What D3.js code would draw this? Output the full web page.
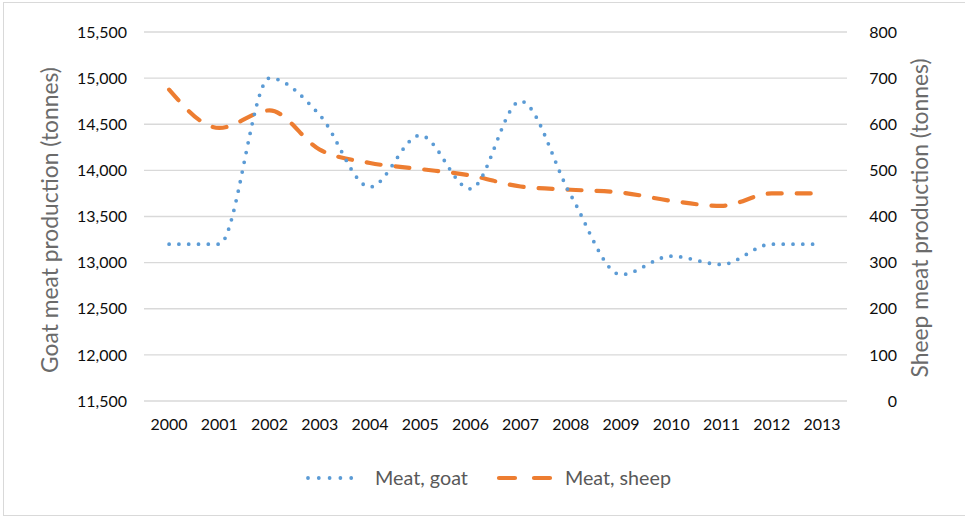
<!DOCTYPE html>
<html><head><meta charset="utf-8">
<script src="https://cdn.jsdelivr.net/npm/d3@7"></script>
<style>body{margin:0;background:#fff;} svg{display:block;font-family:Lato,"Open Sans",sans-serif;}</style>
</head><body>
<script>
const years = ["2000","2001","2002","2003","2004","2005","2006","2007","2008","2009","2010","2011","2012","2013"];
const goat = [13200,13200,15000,14600,13820,14380,13800,14750,13730,12870,13070,12980,13200,13200];
const sheep = [675,592,630,545,516,503,489,465,458,452,434,423,450,450];
const leftTicks = [11500,12000,12500,13000,13500,14000,14500,15000,15500];
const rightTicks = [0,100,200,300,400,500,600,700,800];

const W=965,H=517;
const svg=d3.select("body").append("svg").attr("width",W).attr("height",H);
svg.append("rect").attr("x",3.5).attr("y",2.5).attr("width",970).attr("height",513).attr("fill","#fff").attr("stroke","#d9d9d9");

// fit font size so text gets a target width
function fit(sel,target){
  sel.each(function(){
    const t=d3.select(this); const s0=+t.attr("font-size")||16;
    const w=this.getComputedTextLength(); if(w>0) t.attr("font-size",(s0*target/w).toFixed(2));
  });
}

const x=d3.scaleBand().domain(years).range([144,847]);
const yL=d3.scaleLinear().domain([11500,15500]).range([401,32]);
const yR=d3.scaleLinear().domain([0,800]).range([401,32]);

svg.append("g").selectAll("line").data(leftTicks).join("line")
 .attr("x1",144).attr("x2",847).attr("y1",d=>yL(d)).attr("y2",d=>yL(d))
 .attr("stroke","#d9d9d9").attr("stroke-width",1.3);

const fmt=d3.format(",");
const axL=svg.append("g").attr("transform","translate(127,0)")
 .call(d3.axisLeft(yL).tickValues(leftTicks).tickFormat(fmt).tickSize(0).tickPadding(0));
const axR=svg.append("g").attr("transform","translate(897,0)")
 .call(d3.axisLeft(yR).tickValues(rightTicks).tickSize(0).tickPadding(0));
const axB=svg.append("g").attr("transform","translate(0,419)")
 .call(d3.axisBottom(x).tickSize(0).tickPadding(0));
[axL,axR,axB].forEach(a=>{a.select(".domain").remove();
 a.selectAll("text").attr("font-size",16).attr("fill","#0d0d0d").attr("font-family","Lato");});
axB.selectAll("text").attr("dy","0.71em");
const ls=16*50/axL.select(".tick text").node().getComputedTextLength();
axL.selectAll("text").attr("font-size",ls); axR.selectAll("text").attr("font-size",ls);
const bs=16*37/axB.select(".tick text").node().getComputedTextLength();
axB.selectAll("text").attr("font-size",bs);

const tL=svg.append("text").attr("transform","translate(58,220) rotate(-90)").attr("text-anchor","middle")
 .attr("font-size",18).attr("fill","#6b6b6b").text("Goat meat production (tonnes)");
fit(tL,306);
const tR=svg.append("text").attr("transform","translate(928,218) rotate(-90)").attr("text-anchor","middle")
 .attr("font-size",18).attr("fill","#6b6b6b").text("Sheep meat production (tonnes)");
fit(tR,306*tR.node().getComputedTextLength()/tL.node().getComputedTextLength()*(+tL.attr("font-size"))/18);

const cx=d=>x(d)+x.bandwidth()/2;
const lineG=d3.line().x((d,i)=>cx(years[i])).y(d=>yL(d)).curve(d3.curveMonotoneX);
const lineS=d3.line().x((d,i)=>cx(years[i])).y(d=>yR(d)).curve(d3.curveMonotoneX);

svg.append("path").attr("d",lineS(sheep)).attr("fill","none").attr("stroke","#ed7d31")
 .attr("stroke-width",4.2).attr("stroke-dasharray","14 15").attr("stroke-linecap","round");
svg.append("path").attr("d",lineG(goat)).attr("fill","none").attr("stroke","#5b9bd5")
 .attr("stroke-width",3.8).attr("stroke-dasharray","0 9.8").attr("stroke-linecap","round");

const lg=svg.append("g");
lg.append("line").attr("x1",308).attr("x2",362).attr("y1",478).attr("y2",478).attr("stroke","#5b9bd5")
 .attr("stroke-width",3.8).attr("stroke-dasharray","0 10.8").attr("stroke-linecap","round");
const l1=lg.append("text").attr("x",375).attr("y",478).attr("dy","0.35em").attr("font-size",17).attr("fill","#595959").text("Meat, goat");
fit(l1,93);
lg.append("line").attr("x1",499).attr("x2",551).attr("y1",478).attr("y2",478).attr("stroke","#ed7d31")
 .attr("stroke-width",4.2).attr("stroke-dasharray","16 19").attr("stroke-linecap","round");
const l2=lg.append("text").attr("x",565).attr("y",478).attr("dy","0.35em").attr("font-size",17).attr("fill","#595959").text("Meat, sheep");
fit(l2,106);
</script>
</body></html>
